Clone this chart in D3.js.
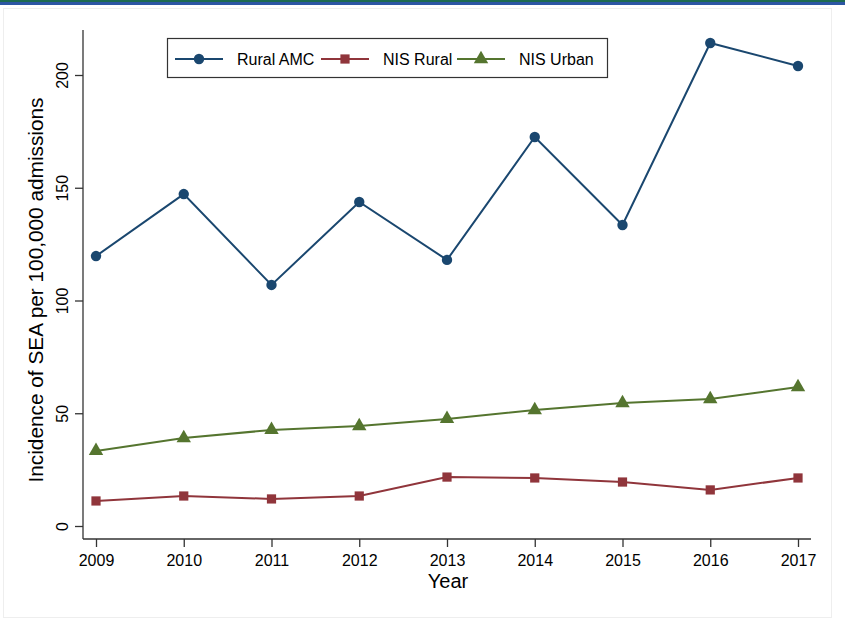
<!DOCTYPE html>
<html>
<head>
<meta charset="utf-8">
<script src="https://cdn.jsdelivr.net/npm/d3@7"></script>
<style>
  body { margin: 0; background: #fff; }
  svg { display: block; }
</style>
</head>
<body>
<script>
var years = [2009, 2010, 2011, 2012, 2013, 2014, 2015, 2016, 2017];
var ruralAmc = [119.7, 147.2, 106.9, 143.7, 118.0, 172.5, 133.5, 214.2, 204.0];
var nisRural = [11.1, 13.3, 12.0, 13.3, 21.7, 21.3, 19.5, 16.0, 21.3];
var nisUrban = [33.3, 39.0, 42.6, 44.3, 47.5, 51.4, 54.5, 56.3, 61.6];
var yTicks = [0, 50, 100, 150, 200];
var seriesNames = ["Rural AMC", "NIS Rural", "NIS Urban"];

var width = 845, height = 621;
var font = "'Liberation Sans', Arial, Helvetica, sans-serif";

var svg = d3.select("body").append("svg")
  .attr("width", width)
  .attr("height", height);

// top banner
svg.append("rect").attr("x", 0).attr("y", 0).attr("width", width).attr("height", 2).style("fill", "#1d6a50");
svg.append("rect").attr("x", 0).attr("y", 2).attr("width", width).attr("height", 3).style("fill", "#2c56a3");

// faint frame
svg.append("rect")
  .attr("x", 3.5).attr("y", 8.5).attr("width", 828).attr("height", 609)
  .style("fill", "none").style("stroke", "#eeeeee").style("stroke-width", 1);

var x = d3.scaleLinear().domain([2009, 2017]).range([96, 798]);
var y = d3.scaleLinear().domain([0, 200]).range([526, 75]);

var axisLeftX = 83, axisBottomY = 539;

// x axis
var xAxis = svg.append("g")
  .attr("transform", "translate(0," + axisBottomY + ")")
  .call(d3.axisBottom(x).tickValues(years).tickFormat(d3.format("d")).tickSize(8).tickPadding(8));
xAxis.attr("font-size", 16).attr("font-family", font);
xAxis.select(".domain").remove();
xAxis.append("line").attr("x1", axisLeftX).attr("x2", 811).attr("y1", 0).attr("y2", 0)
  .style("stroke", "#333").style("stroke-width", 1.3);
xAxis.selectAll(".tick line").style("stroke", "#333").style("stroke-width", 1.3);
xAxis.selectAll(".tick text").style("font-family", font).style("font-size", "16px").style("fill", "#000");

// y axis
var yAxis = svg.append("g")
  .attr("transform", "translate(" + axisLeftX + ",0)")
  .call(d3.axisLeft(y).tickValues(yTicks).tickSize(8).tickPadding(0).tickFormat(d3.format("d")));
yAxis.attr("font-size", 16).attr("font-family", font);
yAxis.select(".domain").remove();
yAxis.append("line").attr("x1", 0).attr("x2", 0).attr("y1", 30).attr("y2", axisBottomY)
  .style("stroke", "#333").style("stroke-width", 1.3);
yAxis.selectAll(".tick line").style("stroke", "#333").style("stroke-width", 1.3);
yAxis.selectAll(".tick text")
  .attr("x", -21).attr("dy", 0)
  .attr("transform", "rotate(-90,-21,0)")
  .attr("text-anchor", "middle")
  .attr("dominant-baseline", "central")
  .style("font-family", font).style("font-size", "16px").style("fill", "#000");

// axis titles
svg.append("text")
  .attr("x", 448).attr("y", 588)
  .attr("text-anchor", "middle")
  .style("font-family", font).style("font-size", "20px")
  .text("Year");

svg.append("text")
  .attr("transform", "translate(43,290) rotate(-90)")
  .attr("text-anchor", "middle")
  .style("font-family", font).style("font-size", "20.8px")
  .text("Incidence of SEA per 100,000 admissions");

var colors = ["#1a476f", "#90353b", "#55752f"];
var data = [ruralAmc, nisRural, nisUrban];
var symbols = [d3.symbolCircle, d3.symbolSquare, d3.symbolTriangle];
var symSizes = [85, 85, 90];

var line = d3.line()
  .x(function(d, i) { return x(years[i]); })
  .y(function(d) { return y(d); });

data.forEach(function(vals, k) {
  svg.append("path")
    .datum(vals)
    .attr("d", line)
    .style("fill", "none")
    .style("stroke", colors[k])
    .style("stroke-width", 2);

  svg.selectAll(".m" + k)
    .data(vals)
    .enter().append("path")
    .attr("class", "m" + k)
    .attr("transform", function(d, i) {
      return "translate(" + x(years[i]) + "," + y(d) + ")";
    })
    .attr("d", d3.symbol().type(symbols[k]).size(symSizes[k]))
    .style("fill", colors[k]);
});

// legend
var legend = svg.append("g");
legend.append("rect")
  .attr("x", 167.5).attr("y", 38.5).attr("width", 440).attr("height", 39)
  .style("fill", "#fff").style("stroke", "#333").style("stroke-width", 1.2);

var legendX = [175, 321, 457];
seriesNames.forEach(function(name, k) {
  var lx = legendX[k], ly = 59;
  legend.append("line")
    .attr("x1", lx).attr("x2", lx + 48).attr("y1", ly).attr("y2", ly)
    .style("stroke", colors[k]).style("stroke-width", 2);
  legend.append("path")
    .attr("transform", "translate(" + (lx + 24) + "," + ly + ")")
    .attr("d", d3.symbol().type(symbols[k]).size(symSizes[k]))
    .style("fill", colors[k]);
  legend.append("text")
    .attr("x", lx + 62).attr("y", ly)
    .attr("dominant-baseline", "central")
    .style("font-family", font).style("font-size", "16px")
    .text(name);
});
</script>
</body>
</html>
